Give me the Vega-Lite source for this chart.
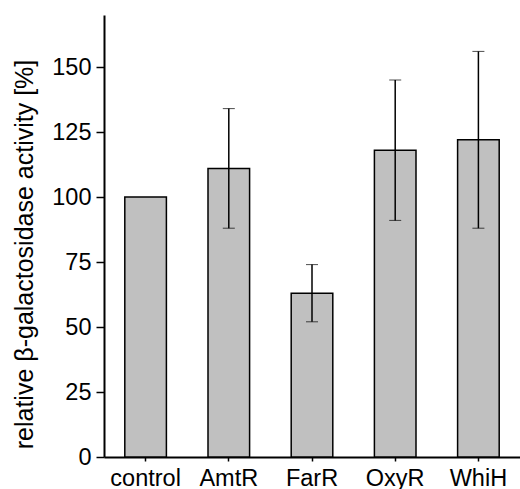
{
  "$schema": "https://vega.github.io/schema/vega-lite/v6.json",
  "width": 416,
  "height": 442,
  "padding": {"left": 104, "top": 15, "right": 0, "bottom": 32},
  "autosize": {"type": "none"},
  "config": {
    "view": {"stroke": null},
    "font": "Liberation Sans",
    "axis": {"grid": false, "domainColor": "black", "tickColor": "black", "labelColor": "black", "titleColor": "black", "labelFont": "Liberation Sans", "titleFont": "Liberation Sans"}
  },
  "data": {"values": [
    {"gene": "control", "value": 100, "low": 100, "high": 100},
    {"gene": "AmtR", "value": 111, "low": 88, "high": 134},
    {"gene": "FarR", "value": 63, "low": 52, "high": 74},
    {"gene": "OxyR", "value": 118, "low": 91, "high": 145},
    {"gene": "WhiH", "value": 122, "low": 88, "high": 156}
  ]},
  "encoding": {
    "x": {"field": "gene", "type": "nominal", "sort": null,
      "scale": {"paddingInner": 0.5, "paddingOuter": 0.25},
      "axis": {"title": null, "labelAngle": 0, "labelFontSize": 23.5, "labelPadding": 5, "tickSize": 4, "domainWidth": 2, "tickWidth": 1.5}}
  },
  "layer": [
    {
      "mark": {"type": "bar", "fill": "#c0c0c0", "stroke": "black", "strokeWidth": 1.5},
      "encoding": {
        "y": {"field": "value", "type": "quantitative",
          "title": "relative β-galactosidase activity [%]",
          "scale": {"domain": [0, 170], "nice": false},
          "axis": {"titleFontSize": 25, "titleFontWeight": "normal", "titlePadding": 14, "titleY": 239,
            "values": [0, 25, 50, 75, 100, 125, 150], "labelFontSize": 23.5, "labelPadding": 5, "tickSize": 8, "tickWidth": 1.5, "domainWidth": 2}}
      }
    },
    {
      "transform": [{"filter": "datum.high > datum.low"}],
      "mark": {"type": "errorbar", "ticks": {"size": 12, "color": "black", "strokeWidth": 1.5}, "rule": {"color": "black", "strokeWidth": 1.5}},
      "encoding": {
        "y": {"field": "low", "type": "quantitative", "title": "relative β-galactosidase activity [%]"},
        "y2": {"field": "high"}
      }
    }
  ]
}
